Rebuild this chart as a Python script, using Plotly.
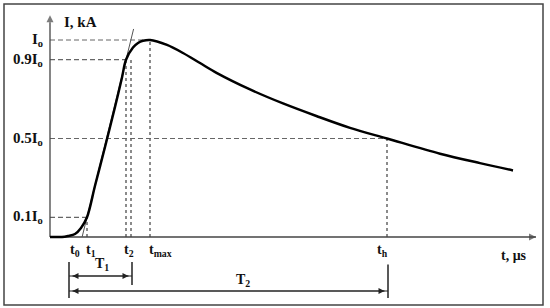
import plotly.graph_objects as go

# current waveform, I/I0 versus time (arbitrary us)
t_curve = [0, 1.2, 1.8, 2.5, 3.1, 3.7, 4.5, 5.5, 6.5, 7.2, 7.6, 8.3, 8.8, 9.3,
           10.0, 11.7, 13.3, 15.0, 16.7, 20.0, 23.3, 26.7, 30.0, 33.7, 39.0, 43.0, 46.3]
i_curve = [0, 0, 0.005, 0.015, 0.046, 0.10, 0.26, 0.457, 0.66, 0.81, 0.90, 0.962, 0.985, 0.996,
           1.0, 0.975, 0.934, 0.883, 0.832, 0.749, 0.678, 0.613, 0.554, 0.50, 0.423, 0.375, 0.338]

# characteristic times
t0, t1, t09, t2, tmax, th = 1.9, 3.7, 7.6, 8.1, 10.0, 33.7

# tangent through the 0.1 and 0.9 points
tan_t = [3.21, 8.36]
tan_i = [0.0, 1.056]

levels = [1.0, 0.9, 0.5, 0.1]
level_labels = ["I<sub>o</sub>", "0.9I<sub>o</sub>", "0.5I<sub>o</sub>", "0.1I<sub>o</sub>"]
level_ends = [tmax, t09, th, t1]

t_labels = ["t<sub>0</sub>", "t<sub>1</sub>", "t<sub>2</sub>", "t<sub>max</sub>", "t<sub>h</sub>"]
t_label_pos = [2.5, 4.1, 7.9, 11.0, 33.2]

SERIF = "Liberation Serif, Times New Roman, serif"
GRAY = "#666"
AX = "#444"

fig = go.Figure()

# horizontal dashed level lines
for lv, te in zip(levels, level_ends):
    fig.add_trace(go.Scatter(x=[0, te], y=[lv, lv], mode="lines",
                             line=dict(color=GRAY, width=1.2, dash="5px,3px"), hoverinfo="skip"))

# vertical dotted lines
verts = [(t1, 0.1), (t09, 0.9), (t2, 0.9), (tmax, 1.0), (th, 0.5)]
for tv, top in verts:
    fig.add_trace(go.Scatter(x=[tv, tv], y=[0, top], mode="lines",
                             line=dict(color=GRAY, width=1.5, dash="3px,3px"), hoverinfo="skip"))

# axes with arrowheads
fig.add_trace(go.Scatter(x=[0, 48.6], y=[0, 0], mode="lines+markers",
                         line=dict(color=AX, width=1.3),
                         marker=dict(symbol="arrow-right", size=[0, 7], color=AX, line_width=0),
                         hoverinfo="skip"))
fig.add_trace(go.Scatter(x=[0, 0], y=[0, 1.125], mode="lines+markers",
                         line=dict(color=AX, width=1.3),
                         marker=dict(symbol="arrow-up", size=[0, 7], color=AX, line_width=0),
                         hoverinfo="skip"))

# tangent
fig.add_trace(go.Scatter(x=tan_t, y=tan_i, mode="lines",
                         line=dict(color="#555", width=1), hoverinfo="skip"))

# waveform
fig.add_trace(go.Scatter(x=t_curve, y=i_curve, mode="lines", line_shape="spline",
                         line=dict(color="black", width=2.5, smoothing=0.9), hoverinfo="skip"))

# bracket verticals for T1 and T2
fig.add_trace(go.Scatter(x=[t0, t0, None, t2 + 0.1, t2 + 0.1, None, th + 0.1, th + 0.1],
                         y=[-0.127, -0.31, None, -0.127, -0.244, None, -0.14, -0.31],
                         mode="lines", line=dict(color="#222", width=1.5), hoverinfo="skip"))

# T1 and T2 double arrows
for t_end, ya in [(t2 + 0.1, -0.198), (th + 0.1, -0.274)]:
    fig.add_trace(go.Scatter(x=[t0 + 0.35, t_end - 0.35], y=[ya, ya], mode="lines+markers",
                             line=dict(color="#222", width=1.2),
                             marker=dict(symbol=["arrow-left", "arrow-right"], size=6,
                                         color="#222", line_width=0),
                             hoverinfo="skip"))
    fig.add_trace(go.Scatter(x=[t0, t_end], y=[ya, ya], mode="lines",
                             line=dict(color="#222", width=1.2), hoverinfo="skip"))

ann = []
# level labels
for lv, lab in zip(levels, level_labels):
    ann.append(dict(x=-0.5, y=lv, xref="x", yref="y", text="<b>" + lab + "</b>", showarrow=False,
                    xanchor="right", yanchor="middle", font=dict(family=SERIF, size=15, color="#111")))

ann.append(dict(x=1.2, y=1.09, xref="x", yref="y", text="<b>I, kA</b>", showarrow=False,
                xanchor="left", yanchor="middle", font=dict(family=SERIF, size=15, color="#111")))

# time labels
for tp, lab in zip(t_label_pos, t_labels):
    ann.append(dict(x=tp, y=-0.071, xref="x", yref="y", text="<b>" + lab + "</b>", showarrow=False,
                    xanchor="center", yanchor="middle", font=dict(family=SERIF, size=14, color="#111")))

ann.append(dict(x=46.4, y=-0.096, xref="x", yref="y", text="<b>t, μs</b>", showarrow=False,
                xanchor="center", yanchor="middle", font=dict(family=SERIF, size=14, color="#111")))
ann.append(dict(x=5.2, y=-0.142, xref="x", yref="y", text="<b>T<sub>1</sub></b>", showarrow=False,
                xanchor="center", yanchor="middle", font=dict(family=SERIF, size=14, color="#111")))
ann.append(dict(x=19.3, y=-0.22, xref="x", yref="y", text="<b>T<sub>2</sub></b>", showarrow=False,
                xanchor="center", yanchor="middle", font=dict(family=SERIF, size=14, color="#111")))

fig.update_layout(
    width=550, height=308,
    margin=dict(l=0, r=0, t=0, b=0),
    paper_bgcolor="white", plot_bgcolor="white",
    showlegend=False,
    xaxis=dict(range=[-5, 50], visible=False, fixedrange=True),
    yaxis=dict(range=[-0.3604, 1.2030], visible=False, fixedrange=True),
    annotations=ann,
    shapes=[dict(type="rect", xref="paper", yref="paper",
                 x0=4 / 550, x1=543 / 550, y0=1 - 305 / 308, y1=1 - 4 / 308,
                 line=dict(color="#444", width=1.5))],
)

# the page body has a default margin; remove it so the figure sits at the corner
fig.write_html("out.html", config={"displayModeBar": False},
               post_script="document.body.style.margin='0';")
